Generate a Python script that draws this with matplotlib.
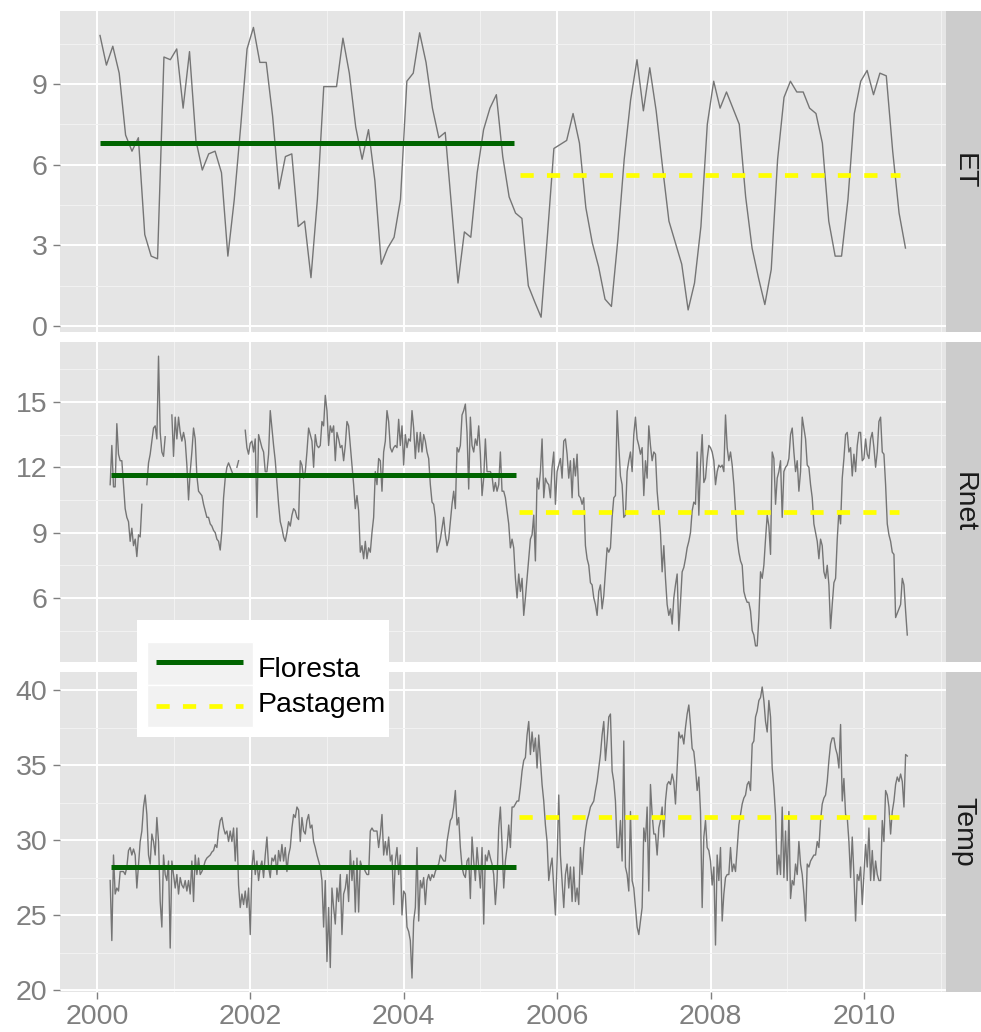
import numpy as np
import matplotlib
matplotlib.use("Agg")
import matplotlib.pyplot as plt
from matplotlib.patches import Rectangle

plt.rcParams['font.family'] = ['Liberation Sans', 'DejaVu Sans']

# ---------------- data ----------------
panels = ["ET", "Rnet", "Temp"]
legend_labels = ["Floresta", "Pastagem"]

# monthly ET (Jan 2000 .. Jul 2010)
et_values = [
    10.8, 9.7, 10.4, 9.4, 7.1, 6.5, 7.0, 3.4, 2.6, 2.5,
    10.0, 9.9, 10.3, 8.1, 10.2, 6.9, 5.8, 6.4, 6.5, 5.7,
    2.6, 4.7, 7.4, 10.3, 11.1, 9.8, 9.8, 7.8, 5.1, 6.3,
    6.4, 3.7, 3.9, 1.8, 4.7, 8.9, 8.9, 8.9, 10.7, 9.4,
    7.4, 6.2, 7.3, 5.4, 2.3, 2.9, 3.3, 4.7, 9.1, 9.4,
    10.9, 9.8, 8.1, 7.0, 7.2, 4.4, 1.6, 3.5, 3.3, 5.7,
    7.3, 8.1, 8.6,
    6.3, 4.8, 4.2, 4.0, 1.5, 0.9, 0.33, 3.4, 6.6, 6.75,
    6.9, 7.9, 6.8, 4.4, 3.1, 2.2, 1.0, 0.73, 3.2, 6.2,
    8.4, 9.9, 8.0, 9.6, 8.0, 5.9, 3.9, 3.1, 2.3, 0.6,
    1.6, 3.7, 7.5, 9.1, 8.1, 8.7, 8.1, 7.5, 4.8, 2.9,
    1.8, 0.8, 2.1, 6.2, 8.5, 9.1, 8.7, 8.7, 8.1, 7.9,
    6.8, 3.9, 2.6, 2.6, 4.7, 7.9, 9.1, 9.5, 8.6, 9.4,
    9.3, 6.5, 4.2, 2.9,
]

nan = float('nan')
# 8-day Rnet (composite index 8 of 2000 onwards)
rnet_values = [
    11.2, 13.0, 11.1, 11.1, 14.0, 12.6, 12.3, 12.3, 11.2, 10.1,
    9.7, 9.5, 8.6, 9.2, 8.4, 8.7, 7.9, 8.9, 8.8, 10.3,
    nan, nan, 11.2, 12.2, 12.6, 13.2, 13.8, 13.9, 13.3, 17.1,
    13.6, 12.7, 12.5, 13.4, nan, nan, nan, 14.4, 12.5, 14.3,
    13.3, 14.3, 13.6, 13.2, 13.6, 13.2, 12.1, 10.5, 11.8, 12.7,
    13.8, 13.3, 11.6, 10.9, 10.8, 10.7, 10.3, 10.0, 9.7, 9.7,
    9.4, 9.3, 9.1, 9.0, 8.7, 8.6, 8.2, 9.1, 10.6, 11.5,
    12.0, 12.2, 12.0, 11.8, 11.6, nan, 12.0, 12.3, nan, nan,
    nan, 13.7, 12.9, 12.6, 13.1, 13.2, 12.7, 13.3, 9.7, 13.5,
    13.2, 12.9, 12.7, 11.8, 11.8, 12.6, 14.6, 13.8, 13.0, 12.3,
    11.3, 10.3, 9.5, 9.2, 8.8, 8.6, 9.0, 9.5, 9.3, 9.8,
    10.1, 10.0, 9.7, 9.6, 12.3, 12.1, 11.5, 11.8, 12.7, 13.8,
    13.5, 13.2, 12.0, 13.5, 13.0, 12.9, 13.0, 14.1, 13.9, 15.3,
    14.6, 13.0, 13.9, 13.6, 13.9, 12.3, 13.6, 13.3, 12.9, 13.0,
    12.3, 13.0, 14.1, 13.9, 13.0, 12.1, 11.2, 10.1, 10.7, 10.0,
    8.1, 8.4, 7.8, 8.6, 7.8, 8.3, 8.1, 9.0, 9.7,
    11.8, 11.2, 12.4, 12.3, 10.9, 12.7, 13.2, 14.6, 14.1, 12.9,
    12.7, 12.9, 13.0, 12.9, 14.2, 13.0, 13.9, 12.1, 13.5, 12.9,
    13.3, 13.2, 14.6, 13.8, 12.4, 13.6, 12.7, 13.6, 12.7, 13.5,
    13.2, 12.7, 12.4, 11.2, 10.4, 10.3, 9.7, 8.1, 8.4, 8.7,
    9.2, 9.7, 8.9, 8.4, 8.7, 9.5, 10.3, 10.9, 10.1, 12.9,
    12.7, 13.0, 14.4, 14.6, 14.9, 13.6, 11.0, 14.3, 13.0, 12.7,
    13.3, 13.0, 13.9, 12.6, 10.7, 11.5, 13.3, 11.8, 11.8, 11.8,
    11.6, 10.9, 11.3, 10.9, 11.2, 12.7, 10.9, 10.9, 10.6, 10.0,
    9.4, 8.3, 8.7, 8.3, 6.9, 6.0, 7.1, 6.3, 6.9, 5.2,
    6.0, 6.9, 7.8, 8.7, 8.9, 9.8, 7.7, 11.5, 11.0, 11.8,
    13.3, 10.6, 11.5, 11.3, 11.2, 10.6, 12.0, 12.7, 10.3, 11.8,
    12.1, 12.4, 11.5, 13.2, 13.3, 12.6, 11.5, 12.3, 10.6, 12.4,
    11.6, 12.6, 10.7, 10.6, 10.3, 10.6, 8.4, 7.8, 7.5, 6.7,
    6.6, 6.0, 5.7, 5.2, 6.3, 6.6, 5.5, 6.1, 7.2, 8.3,
    8.1, 8.3, 9.7, 10.6, 10.7, 14.6, 13.0, 11.6, 11.2, 9.7,
    9.8, 11.8, 12.3, 12.7, 11.8, 13.5, 14.3, 13.3, 13.0, 12.6,
    12.9, 10.7,
    12.3, 11.5, 13.9, 13.0, 12.3, 12.7, 12.6, 10.9, 10.0, 9.0,
    7.2, 8.4, 6.9, 5.7, 5.2, 5.5, 4.8, 6.0, 6.6, 7.1,
    4.5, 5.8, 7.2, 7.4, 7.8, 8.3, 8.6, 9.0, 10.0, 10.4,
    10.3, 12.7, 9.8, 12.1, 13.5, 11.3, 11.5, 12.4, 13.0, 12.9,
    12.7, 12.3, 11.2, 11.8, 12.1, 12.0, 12.1, 11.8, 14.4, 12.9,
    12.3, 12.7, 12.1, 11.2, 10.0, 8.7, 8.1, 7.7, 7.5, 6.3,
    6.0, 5.8, 5.8, 5.4, 4.5, 4.3, 3.8, 3.8, 5.1, 7.2,
    6.9, 7.5, 8.7, 9.8, 9.3, 8.0, 12.7, 12.4, 10.3, 11.5,
    11.8, 12.3, 9.7, 11.8, 12.0, 12.1, 12.4, 13.5, 13.8, 12.7,
    11.8, 12.3, 10.9, 11.8, 14.3, 13.8, 13.3, 12.1, 12.0, 11.2,
    10.6, 9.4, 9.0, 8.6, 7.8, 8.7, 8.4, 7.2, 6.9, 7.5,
    6.6, 4.6, 5.7, 6.7, 6.9, 8.7, 10.0, 9.4, 11.5, 12.4,
    13.5, 13.6, 12.7, 12.9, 11.6, 12.6, 11.8, 13.0, 13.6, 13.6,
    12.3, 12.4, 13.3, 12.6, 12.4, 13.3, 13.6, 12.9, 12.0, 12.7,
    14.1, 14.3, 12.7, 12.6, 11.2, 9.4, 8.9, 8.6, 8.1, 8.0,
    5.1, 5.3, 5.5, 5.7, 6.9, 6.6, 5.4, 4.3,
]

# 8-day Temp (same dates as Rnet)
temp_values = [
    27.3, 23.3, 29.0, 26.4, 26.8, 26.6, 27.9, 27.9, 27.9, 27.7,
    28.2, 29.3, 29.5, 29.0, 29.4, 29.0, 26.8, 28.4, 29.9, 30.6,
    32.2, 33.0, 31.7, 29.0, 28.4, 30.4, 29.9, 29.0, 31.5, 29.9,
    25.9, 24.2, 29.0, 27.7, 27.3, 28.6, 22.8, 28.6, 27.7, 26.8,
    27.7, 26.4, 27.5, 27.0, 26.8, 27.3, 26.6, 27.3, 26.4, 28.6,
    25.9, 29.0, 27.7, 28.8, 27.7, 27.9, 28.2, 28.6, 28.8, 28.9,
    29.0, 29.2, 29.3, 29.7, 29.5, 30.6, 31.3, 31.5, 30.8, 30.4,
    30.6, 29.9, 30.6, 29.9, 30.8, 28.6, 30.8, 27.0, 25.5, 26.4,
    25.7, 26.6, 25.5, 26.8, 23.7, 28.2, 29.3, 27.7, 28.6, 27.3,
    28.2, 28.6, 27.5, 29.0, 30.2, 28.2, 27.5, 28.8, 28.6, 29.0,
    27.7, 29.3, 28.6, 29.7, 28.6, 29.5, 27.9, 29.0, 29.5, 30.8,
    31.7, 31.5, 32.2, 32.0, 29.9, 31.5, 30.6, 30.4, 31.3, 31.7,
    30.8, 31.0, 29.9, 29.5, 29.0, 28.6, 28.2, 27.3, 24.2, 27.3,
    21.9, 25.5, 21.5, 26.8, 25.5, 24.4, 26.8, 25.9, 27.7, 23.7,
    26.4, 26.8, 27.7, 25.9, 29.3, 27.3, 28.6, 25.2, 28.8, 25.2,
    28.6, 28.2, 28.2, 27.9, 27.7, 27.7, 30.6, 30.8, 30.6,
    30.6, 30.6, 29.5, 30.4, 31.7, 29.0, 29.9, 29.0, 30.2, 28.6,
    29.0, 25.7, 28.6, 29.5, 27.7, 29.0, 25.0, 26.6, 26.4, 24.2,
    23.9, 23.3, 20.8, 24.6, 25.5, 29.5, 24.6, 27.3, 26.8, 27.5,
    25.7, 27.3, 27.7, 27.3, 27.7, 27.5, 27.9, 28.2, 28.4, 29.0,
    28.8, 28.6, 28.6, 29.9, 30.6, 31.3, 31.5, 32.2, 33.3, 31.0,
    31.5, 29.5, 28.2, 27.7, 27.5, 28.6, 28.8, 26.1, 30.2, 28.6,
    27.3, 29.5, 28.2, 26.8, 29.5, 24.4, 29.0, 28.6, 29.3, 28.8,
    28.4, 27.7, 25.7, 27.3, 30.8, 32.2, 29.7, 26.8, 28.6, 29.5,
    31.0, 29.5, 32.2, 32.2, 32.4, 32.6, 32.6, 33.5, 34.6, 35.3,
    35.5, 37.0, 37.9, 35.7, 37.2, 35.9, 36.8, 34.8, 37.0, 35.3,
    33.7, 32.6, 31.0, 29.9, 27.3, 28.2, 28.8, 26.8, 25.0, 28.6,
    33.0, 29.0, 27.3, 25.5, 27.7, 28.4, 26.8, 28.2, 25.9, 28.2,
    25.9, 26.8, 25.7, 29.5, 27.7, 29.5, 30.6, 31.3, 31.7, 32.2,
    32.4, 32.6, 33.3, 33.9, 34.8, 35.7, 37.0, 37.9, 35.3, 36.6,
    38.2, 38.4, 34.6, 33.9, 32.6, 29.5, 29.5, 31.3, 28.6, 36.6,
    28.2, 27.7, 26.6, 31.9, 27.3, 26.8, 25.5, 24.2, 23.7, 24.6,
    25.5, 30.8,
    29.9, 32.2, 26.6, 33.7, 31.7, 30.4, 30.4, 29.0, 30.8, 31.3,
    32.2, 30.2, 32.6, 33.7, 33.9, 33.7, 34.4, 33.9, 32.4, 34.8,
    37.2, 36.8, 37.0, 36.4, 37.5, 38.4, 39.0, 37.7, 36.1, 35.9,
    34.8, 33.3, 34.2, 31.9, 25.5, 30.2, 31.3, 29.5, 29.3, 28.6,
    27.0, 28.2, 23.0, 29.0, 27.3, 29.5, 24.6, 26.4, 27.5, 27.7,
    27.7, 29.5, 27.9, 28.4, 27.9, 29.5, 31.0, 31.7, 32.4, 32.8,
    33.0, 33.7, 33.9, 33.3, 36.4, 36.6, 38.2, 38.6, 39.3, 39.5,
    40.2, 39.3, 37.9, 37.2, 39.3, 38.2, 34.8, 33.5, 31.7, 27.7,
    29.0, 27.7, 32.2, 27.5, 30.6, 27.3, 31.9, 26.1, 27.3, 27.0,
    28.4, 27.7, 29.9, 28.4, 27.7, 26.4, 24.6, 28.4, 28.2, 28.6,
    28.8, 29.0, 29.0, 29.9, 29.5, 31.3, 32.4, 32.8, 33.0, 33.9,
    35.3, 36.4, 36.8, 36.8, 36.1, 35.7, 34.8, 37.7, 32.6, 34.1,
    31.7, 31.5, 29.9, 27.5, 30.2, 27.7, 24.6, 27.7, 27.3, 28.2,
    25.7, 27.7, 29.7, 28.2, 30.8, 27.3, 29.3, 27.3, 28.6, 27.7,
    27.3, 27.3, 31.3, 29.9, 33.3, 33.0, 32.2, 30.4, 31.9, 32.6,
    33.7, 34.2, 33.9, 34.4, 33.9, 32.2, 35.7, 35.6,
]

et_time = 2000 + (np.arange(len(et_values)) + 0.5) / 12.0
rt_time = 2000 + np.arange(8, 8 + len(rnet_values)) / 46.0

series_time = [et_time, rt_time, rt_time]
series_values = [np.array(et_values), np.array(rnet_values), np.array(temp_values)]

floresta_mean = [6.8, 11.65, 28.23]
pastagem_mean = [5.6, 9.95, 31.56]
floresta_span = [(2000.04, 2005.44), (2000.19, 2005.47), (2000.19, 2005.47)]
pastagem_span = [(2005.52, 2010.47), (2005.50, 2010.46), (2005.50, 2010.46)]

ylims = [(-0.22, 11.71), (3.06, 17.75), (19.87, 41.2)]
yticks_major = [[0, 3, 6, 9], [6, 9, 12, 15], [20, 25, 30, 35, 40]]
yticks_minor = [[1.5, 4.5, 7.5, 10.5], [4.5, 7.5, 10.5, 13.5, 16.5],
                [22.5, 27.5, 32.5, 37.5]]
xticks_major = [2000, 2002, 2004, 2006, 2008, 2010]
xticks_minor = [2001, 2003, 2005, 2007, 2009, 2011]
xlim = (1999.52, 2011.07)

# ---------------- styling ----------------
W, H = 981, 1032
FS = 20.5
GREEN = '#006400'
YELLOW = '#FFFF00'
TICKGREY = '#7F7F7F'

fig = plt.figure(figsize=(W / 100, H / 100), dpi=100)
fig.patch.set_facecolor('white')

def px_rect(x0, y0, x1, y1):
    return [x0 / W, 1 - y1 / H, (x1 - x0) / W, (y1 - y0) / H]

panel_px = [(11, 332), (342, 662), (672, 992)]
for i, name in enumerate(panels):
    top, bot = panel_px[i]
    ax = fig.add_axes(px_rect(60, top, 946, bot))
    ax.set_facecolor('#E5E5E5')
    for s in ax.spines.values():
        s.set_visible(False)
    ax.set_xlim(*xlim)
    ax.set_ylim(*ylims[i])
    ax.set_xticks(xticks_major)
    ax.set_xticks(xticks_minor, minor=True)
    ax.set_yticks(yticks_major[i])
    ax.set_yticks(yticks_minor[i], minor=True)
    ax.grid(which='major', color='white', linewidth=1.4)
    ax.grid(which='minor', color='#F2F2F2', linewidth=0.7)
    ax.set_axisbelow(True)
    ax.tick_params(which='minor', length=0)
    ax.tick_params(axis='y', which='major', colors=TICKGREY, labelsize=FS,
                   length=5, width=1, pad=4)
    if i < 2:
        ax.tick_params(axis='x', which='major', length=0, labelbottom=False)
    else:
        ax.tick_params(axis='x', which='major', colors=TICKGREY, labelsize=FS,
                       length=5, width=1, pad=4)
    ax.set_yticklabels([str(v) for v in yticks_major[i]])
    ax.set_xticklabels([str(v) for v in xticks_major])

    ax.plot(series_time[i], series_values[i], color='#757575', linewidth=1.0,
            zorder=2)
    f0, f1 = floresta_span[i]
    ax.plot([f0, f1], [floresta_mean[i]] * 2, color=GREEN, linewidth=3.6,
            solid_capstyle='butt', zorder=3)
    p0, p1 = pastagem_span[i]
    ax.plot([p0, p1], [pastagem_mean[i]] * 2, color=YELLOW, linewidth=3.4,
            linestyle=(0, (2.8, 2.8)), dash_capstyle='butt', zorder=3)

    # facet strip
    sax = fig.add_axes(px_rect(946, top, 981, bot))
    sax.set_facecolor('#CCCCCC')
    sax.set_xticks([])
    sax.set_yticks([])
    for s in sax.spines.values():
        s.set_visible(False)
    sax.text(0.5, 0.5, name, rotation=-90, ha='center', va='center',
             fontsize=FS, color='#1A1A1A', transform=sax.transAxes)

# ---------------- legend (overlay) ----------------
lax = fig.add_axes([0, 0, 1, 1], zorder=10)
lax.set_xlim(0, W)
lax.set_ylim(H, 0)
lax.axis('off')
lax.patch.set_alpha(0)
lax.add_patch(Rectangle((137, 620), 252, 117, facecolor='white',
                        edgecolor='none'))
lax.add_patch(Rectangle((147, 642), 106, 43, facecolor='#F2F2F2',
                        edgecolor='white', linewidth=1))
lax.add_patch(Rectangle((147, 685), 106, 42, facecolor='#F2F2F2',
                        edgecolor='white', linewidth=1))
lax.plot([156, 243], [662, 662], color=GREEN, linewidth=3.6,
         solid_capstyle='butt')
lax.plot([156, 243], [706, 706], color=YELLOW, linewidth=3.4,
         linestyle=(0, (2.8, 2.8)), dash_capstyle='butt')
lax.text(258, 670, legend_labels[0], fontsize=FS, color='black',
         ha='left', va='center')
lax.text(258, 705, legend_labels[1], fontsize=FS, color='black',
         ha='left', va='center')

fig.savefig('out.png', dpi=100)
